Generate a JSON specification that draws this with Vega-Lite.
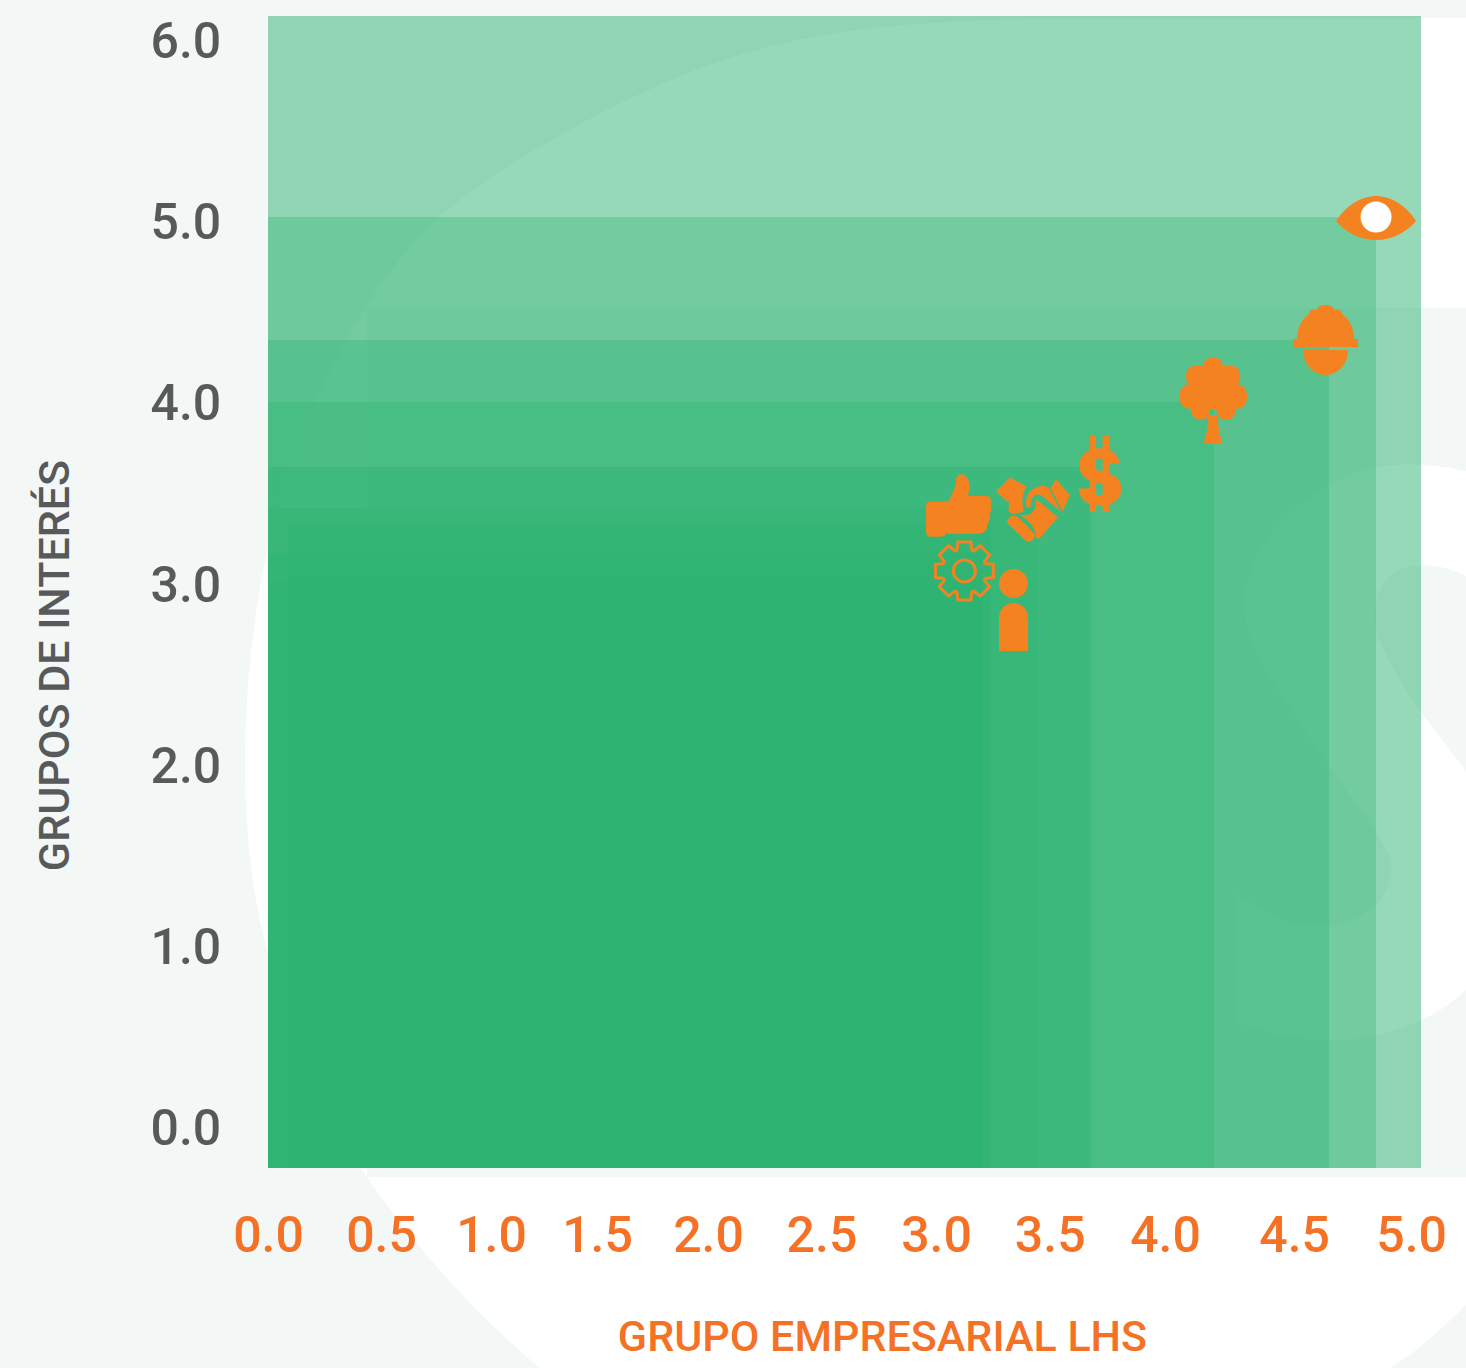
{
"$schema":"https://vega.github.io/schema/vega-lite/v6.json",
"autosize":{"type":"none"},
"padding":{"left":268,"top":16,"right":45,"bottom":200},
"width":1153,"height":1152,
"background":"#f3f7f6",
"config":{"view":{"stroke":null}},
"datasets":{
"fondo":[{"parte":"blanco1"},{"parte":"gris1"},{"parte":"blanco2"},{"parte":"gris2"}],
"base":[{"x0":0,"x1":5,"y":6.1324}],
"areas":[
{"grupo":"vista","x0":0,"x1":4.805,"y":5.024},
{"grupo":"seguridad","x0":0,"x1":4.601,"y":4.346},
{"grupo":"ambiente","x0":0,"x1":4.102,"y":4.004},
{"grupo":"finanzas","x0":0,"x1":3.569,"y":3.645},
{"grupo":"alianzas","x0":0,"x1":3.337,"y":3.419},
{"grupo":"clientes","x0":0.087,"x1":3.135,"y":3.325},
{"grupo":"procesos","x0":0,"x1":3.096,"y":3.171},
{"grupo":"personas","x0":0,"x1":3.096,"y":3.011}
],
"iconos":[
{"icono":"vista","x":4.805,"y":5.018},
{"icono":"seguridad","x":4.586,"y":4.346},
{"icono":"ambiente","x":4.098,"y":4.015},
{"icono":"finanzas","x":3.608,"y":3.607},
{"icono":"alianzas","x":3.317,"y":3.408},
{"icono":"clientes","x":2.995,"y":3.432},
{"icono":"personas","x":3.233,"y":2.815}
],
"engranaje":[{"icono":"procesos","x":3.02,"y":3.072}],
"pupila":[{"icono":"vista","x":4.805,"y":5.024}]
},
"layer":[
{"data":{"name":"fondo"},
"mark":{"type":"point","filled":true,"opacity":1,"strokeWidth":0,"size":4},
"encoding":{
"x":{"datum":2.307,"type":"quantitative","scale":{"domain":[0,5],"nice":false,"zero":false}},
"y":{"datum":2.912,"type":"quantitative","scale":{"domain":[-0.2206,6.1324],"nice":false,"zero":false}},
"shape":{"field":"parte","type":"nominal","legend":null,"scale":{"domain":["blanco1","gris1","blanco2","gris2"],"range":[
"M666 -582L350 -582C280 -582 140 -582 42 -568C-30 -558 -100 -535 -162 -505C-235 -470 -305 -430 -361 -383C-400 -345 -430 -305 -453 -260C-477 -220 -495 -175 -509 -134C-520 -105 -527 -80 -532 -52C-548 20 -555 95 -555 166C-555 230 -548 295 -532 354C-510 435 -480 505 -438 570C-390 640 -330 710 -260 768L590 768C620 750 645 725 666 705Z",
"M-433 -292L666 -292L666 577L-433 577Z",
"M666 -129C630 -137 595 -138 565 -130C500 -110 445 -55 445 5C445 40 462 65 477 88C495 115 510 140 529 166C545 190 565 212 577 233C587 250 593 260 591 271C590 285 585 296 577 304C562 318 545 324 529 326C500 328 470 317 453 304L435 293L435 422C470 435 500 440 529 440C565 440 595 432 621 420C640 412 655 400 666 390Z",
"M666 -24C640 -37 605 -40 588 -22C572 -5 572 25 580 42C590 65 605 90 621 112L666 171Z"
]}},
"color":{"field":"parte","type":"nominal","legend":null,"scale":{"domain":["blanco1","gris1","blanco2","gris2"],"range":["#ffffff","#f3f7f6","#ffffff","#f3f7f6"]}}
}},
{"data":{"name":"base"},
"mark":{"type":"rect","color":"#2bb371","opacity":0.5},
"encoding":{"x":{"field":"x0","type":"quantitative"},"x2":{"field":"x1"},"y":{"field":"y","type":"quantitative"},"y2":{"datum":-0.2206}}},
{"data":{"name":"areas"},
"mark":{"type":"rect","color":"#2bb371","opacity":0.33},
"encoding":{
"x":{"field":"x0","type":"quantitative",
"axis":{"zindex":1,"title":"GRUPO EMPRESARIAL LHS","values":[0,0.49,0.967,1.427,1.908,2.4,2.897,3.39,3.89,4.45,4.957],
"labelExpr":"format(round(datum.value*2)/2,'.1f')","domain":false,"ticks":false,"grid":false,"labelFont":"Roboto","labelFontSize":50,"labelFontWeight":500,"labelColor":"#f47125","labelPadding":68,"labelOverlap":false,"labelFlush":false,"labelBound":false,"labelAlign":"center","labelBaseline":"middle",
"titleFont":"Roboto","titleFontSize":43,"titleFontWeight":500,"titleColor":"#f47125","titleX":614,"titleY":169,"titleAlign":"center","titleBaseline":"middle"}},
"x2":{"field":"x1"},
"y":{"field":"y","type":"quantitative",
"axis":{"zindex":1,"title":"GRUPOS DE INTERÉS","values":[0,1,2,3,4,5,6],"format":".1f","domain":false,"ticks":false,"grid":false,"labelFont":"Roboto","labelFontSize":50,"labelFontWeight":500,"labelColor":"#58595b","labelPadding":118,"labelOffset":2,"labelOverlap":false,"labelFlush":false,"labelBound":false,"labelAlign":"left","labelBaseline":"middle",
"titleFont":"Roboto","titleFontSize":43,"titleFontWeight":500,"titleColor":"#58595b","titleX":-213,"titleY":649,"titleAngle":-90,"titleAlign":"center","titleBaseline":"middle"}},
"y2":{"datum":-0.2206}}},
{"data":{"name":"iconos"},
"mark":{"type":"point","filled":true,"opacity":1,"strokeWidth":0,"size":10000,"color":"#f58220"},
"encoding":{"x":{"field":"x","type":"quantitative"},"y":{"field":"y","type":"quantitative"},
"shape":{"field":"icono","type":"nominal","legend":null,"scale":{"domain":["vista","seguridad","ambiente","finanzas","alianzas","clientes","personas"],"range":[
"M-.8 .06C-.6 -.25 -.3 -.44 0 -.44C.3 -.44 .6 -.25 .8 .06C.6 .3 .3 .44 0 .44C-.3 .44 -.6 .3 -.8 .06Z",
"M-.57 -.02C-.57 -.25 -.47 -.42 -.33 -.52C-.33 -.6 -.25 -.62 -.18 -.6C-.15 -.68 -.08 -.7 0 -.7C.08 -.7 .15 -.68 .18 -.6C.25 -.62 .33 -.6 .33 -.52C.47 -.42 .57 -.25 .57 -.02ZM-.65 -.02L.65 -.02L.65 .14L-.65 .14ZM-.45 .2L.45 .2C.45 .48 .25 .7 0 .7C-.25 .7 -.45 .48 -.45 .2Z",
"M.2 -.65Q.2 -.45 0 -.45Q-.2 -.45 -.2 -.65Q-.2 -.85 0 -.85Q.2 -.85 .2 -.65ZM-.1 -.47Q-.1 -.25 -.32 -.25Q-.54 -.25 -.54 -.47Q-.54 -.69 -.32 -.69Q-.1 -.69 -.1 -.47ZM.54 -.47Q.54 -.25 .32 -.25Q.1 -.25 .1 -.47Q.1 -.69 .32 -.69Q.54 -.69 .54 -.47ZM-.17 -.07Q-.17 .18 -.42 .18Q-.67 .18 -.67 -.07Q-.67 -.32 -.42 -.32Q-.17 -.32 -.17 -.07ZM.68 -.07Q.68 .18 .43 .18Q.18 .18 .18 -.07Q.18 -.32 .43 -.32Q.68 -.32 .68 -.07ZM-.06 .2Q-.06 .39 -.25 .39Q-.44 .39 -.44 .2Q-.44 .01 -.25 .01Q-.06 .01 -.06 .2ZM.45 .2Q.45 .39 .26 .39Q.07 .39 .07 .2Q.07 .01 .26 .01Q.45 .01 .45 .2ZM.4 -.2Q.4 .2 0 .2Q-.4 .2 -.4 -.2Q-.4 -.6 0 -.6Q.4 -.6 .4 -.2ZM.1 .3C.1 .55 .13 .72 .2 .88L-.2 .88C-.13 .72 -.1 .55 -.1 .3Z",
"M.387 -.213L.133 -.213C.1 -.28 .053 -.307 -.013 -.307C-.1 -.307 -.147 -.253 -.147 -.187C-.147 -.107 -.067 -.08 .033 -.053C.233 0 .427 .067 .427 .307C.427 .52 .233 .64 0 .64C-.233 .64 -.413 .52 -.427 .293L-.16 .293C-.147 .387 -.093 .427 0 .427C.1 .427 .16 .387 .16 .32C.16 .24 .08 .213 -.033 .187C-.233 .133 -.413 .067 -.413 -.187C-.413 -.38 -.233 -.513 0 -.513C.213 -.513 .373 -.4 .387 -.213ZM-.2 -.76L-.08 -.76L-.08 .76L-.2 .76ZM.053 -.76L.187 -.76L.187 .76L.053 .76Z",
"M-.74 -.367L-.46 -.653L-.127 -.467C-.227 -.333 -.227 -.133 -.18 .033L-.393 .08L-.493 .033L-.473 -.147ZM-.127 -.053C-.18 -.333 .007 -.487 .24 -.487L.32 -.433L.56 .033L.16 -.3C.04 -.347 -.073 -.233 -.04 -.053ZM.46 -.613L.74 -.3L.593 .033L.353 -.433ZM.073 -.213L.5 .147L.153 .547C.087 .6 .04 .567 .047 .48C.033 .333 -.093 .2 -.273 .1L-.093 .1C-.007 .053 .073 -.033 .06 -.133ZM-.493 .18C-.447 .1 -.36 .1 -.293 .147L.02 .467C.073 .547 -.007 .653 -.127 .633L-.493 .28C-.527 .247 -.52 .213 -.493 .18Z",
"M-.573 -.08L-.207 -.08C-.14 -.213 -.073 -.347 -.053 -.447C-.067 -.58 -.007 -.627 .06 -.627C.173 -.613 .227 -.48 .213 -.347L.187 -.193L.547 -.193C.64 -.193 .66 -.113 .64 -.033C.667 .033 .647 .14 .613 .18C.64 .253 .613 .34 .573 .373C.573 .473 .527 .553 .427 .56L-.14 .56C-.207 .56 -.24 .553 -.253 .54C-.253 .593 -.307 .62 -.373 .62L-.573 .62C-.62 .62 -.653 .58 -.653 .527L-.653 .007C-.653 -.047 -.62 -.08 -.573 -.08Z",
"M-.29 .67L-.29 0C-.29 -.17 -.15 -.29 0 -.29C.15 -.29 .29 -.17 .29 0L.29 .67ZM.29 -.68C.29 -.52 .16 -.39 0 -.39C-.16 -.39 -.29 -.52 -.29 -.68C-.29 -.84 -.16 -.97 0 -.97C.16 -.97 .29 -.84 .29 -.68Z"
]}}}},
{"data":{"name":"engranaje"},
"mark":{"type":"point","filled":false,"fill":null,"opacity":1,"stroke":"#f58220","strokeWidth":3,"size":10000,
"shape":"M.42 -.15L.58 -.13L.58 .13L.42 .15L.403 .191L.502 .318L.318 .502L.191 .403L.15 .42L.13 .58L-.13 .58L-.15 .42L-.191 .403L-.318 .502L-.502 .318L-.403 .191L-.42 .15L-.58 .13L-.58 -.13L-.42 -.15L-.403 -.191L-.502 -.318L-.318 -.502L-.191 -.403L-.15 -.42L-.13 -.58L.13 -.58L.15 -.42L.191 -.403L.318 -.502L.502 -.318L.403 -.191ZM.22 0C.22 .122 .122 .22 0 .22C-.122 .22 -.22 .122 -.22 0C-.22 -.122 -.122 -.22 0 -.22C.122 -.22 .22 -.122 .22 0Z"},
"encoding":{"x":{"field":"x","type":"quantitative"},"y":{"field":"y","type":"quantitative"}}},
{"data":{"name":"pupila"},
"mark":{"type":"point","filled":true,"opacity":1,"strokeWidth":0,"shape":"circle","size":961,"color":"#ffffff"},
"encoding":{"x":{"field":"x","type":"quantitative"},"y":{"field":"y","type":"quantitative"}}}
],
"resolve":{"scale":{"shape":"independent","color":"independent"}}
}
